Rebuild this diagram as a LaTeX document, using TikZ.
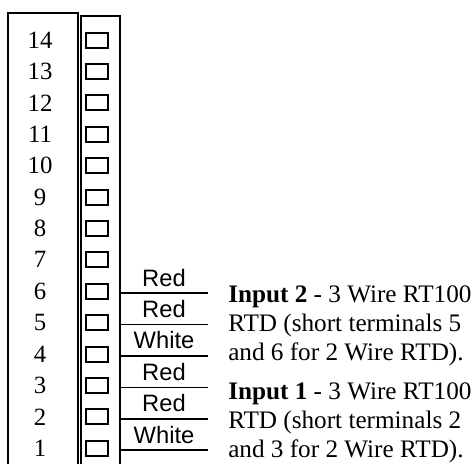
\documentclass[tikz,border=0pt]{standalone}
\usepackage{fontspec}
\setmainfont{Liberation Serif}
\setsansfont{Liberation Sans}
\usetikzlibrary{calc}

\begin{document}
\begin{tikzpicture}[x=0.75pt, y=-0.75pt,
		pinnum/.style={font=\fontsize{18.6}{21.4}\selectfont, inner sep=0pt},
		pinbox/.style={draw, line width=1.5pt, minimum width=16.5pt, minimum height=11.25pt, inner sep=0pt},
		wire/.style={line width=1.2pt},
		wirelabel/.style={font=\sffamily\fontsize{17.8}{20}\selectfont, inner sep=0pt, above=4.5pt},
		infotext/.style={font=\fontsize{18.9}{21.4}\selectfont, inner sep=0pt, align=left, anchor=base west}]
		%%%%% START %%%%%
		\useasboundingbox (0, 0) rectangle (476, 464);
		
		% number panel and terminal strip
		\draw[line width=0.8pt] (8, 470) -- (8, 13) -- (78, 13) -- (78, 470);
		\draw[line width=1.5pt] (80.5, 470) -- (80.5, 15.5) -- (119.5, 15.5) -- (119.5, 470);
		\coordinate (stripR) at (120, 0);
		
		\foreach \i in {1,...,14}{
			\node[pinnum] (num\i) at (40, {40+(14-\i)*31.4}) {\i};
			\node[pinbox] (sq\i) at (97, {40+(14-\i)*31.4}) {};
		}
		
		% wires
		\foreach \i/\col in {6/Red, 5/Red, 4/White, 3/Red, 2/Red, 1/White}{
			\coordinate (end\i) at (208, {42+(14-\i)*31.4});
			\draw[wire] (end\i -| stripR) -- node[wirelabel] {\col} (end\i);
		}
		
		% descriptions (anchored at the last line)
		\node[infotext] (in2) at (228, 360) {\textbf{Input 2} - 3 Wire RT100\\RTD (short terminals 5\\and 6 for 2 Wire RTD).};
		\node[infotext] (in1) at (228, 457) {\textbf{Input 1} - 3 Wire RT100\\RTD (short terminals 2\\and 3 for 2 Wire RTD).};
		%%%%% END %%%%%
\end{tikzpicture}
\end{document}
